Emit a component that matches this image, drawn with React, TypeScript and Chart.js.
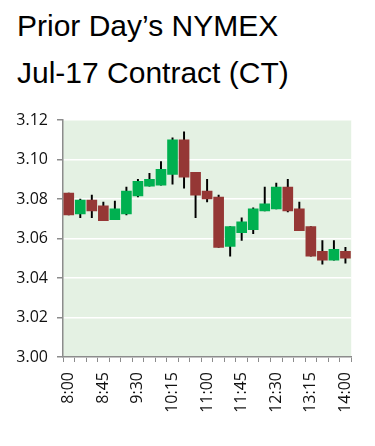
import React, { useEffect, useRef } from "react";
import { Chart, registerables } from "chart.js";

Chart.register(...registerables);

const times = [
  "8:00", "8:15", "8:30", "8:45", "9:00", "9:15", "9:30", "9:45", "10:00",
  "10:15", "10:30", "10:45", "11:00", "11:15", "11:30", "11:45", "12:00",
  "12:15", "12:30", "12:45", "13:00", "13:15", "13:30", "13:45", "14:00",
];
const opens = [
  3.083, 3.0725, 3.0795, 3.0765, 3.0695, 3.0725, 3.0815, 3.0865, 3.087,
  3.0925, 3.11, 3.0935, 3.084, 3.081, 3.056, 3.063, 3.0645, 3.074, 3.075,
  3.086, 3.075, 3.066, 3.0535, 3.049, 3.0535,
];
const highs = [
  3.083, 3.08, 3.082, 3.0785, 3.079, 3.086, 3.09, 3.093, 3.099,
  3.111, 3.114, 3.0935, 3.09, 3.082, 3.066, 3.0705, 3.0755, 3.086, 3.088,
  3.09, 3.0785, 3.066, 3.059, 3.059, 3.0555,
];
const lows = [
  3.072, 3.0705, 3.0705, 3.069, 3.0695, 3.072, 3.081, 3.0865, 3.087,
  3.0875, 3.0855, 3.0705, 3.0785, 3.0555, 3.051, 3.059, 3.0625, 3.074, 3.075,
  3.0735, 3.064, 3.051, 3.047, 3.049, 3.0475,
];
const closes = [
  3.072, 3.0795, 3.074, 3.069, 3.075, 3.084, 3.089, 3.09, 3.095,
  3.11, 3.091, 3.082, 3.08, 3.0555, 3.066, 3.0685, 3.075, 3.0775, 3.086,
  3.074, 3.064, 3.051, 3.049, 3.0545, 3.05,
];
const yTicks = [3.0, 3.02, 3.04, 3.06, 3.08, 3.1, 3.12];
const titleLines = ["Prior Day\u2019s NYMEX", "Jul-17 Contract (CT)"];

const UP = "#00B050";
const DOWN = "#953735";
const PLOT_BG = "#E4F1E3";
const AXIS = "#8C8C8C";

const plotBg = {
  id: "plotBg",
  beforeDraw(chart: any) {
    const { ctx, chartArea } = chart;
    if (!chartArea) return;
    ctx.save();
    ctx.fillStyle = PLOT_BG;
    ctx.fillRect(
      chartArea.left,
      chartArea.top,
      chartArea.right - chartArea.left,
      chartArea.bottom - chartArea.top
    );
    ctx.restore();
  },
};

export default function App() {
  const ref = useRef<HTMLCanvasElement | null>(null);

  useEffect(() => {
    if (!ref.current) return;
    const colors = opens.map((o, i) => (closes[i] >= o ? UP : DOWN));
    const chart = new Chart(ref.current, {
      type: "bar",
      data: {
        labels: times,
        datasets: [
          {
            label: "body",
            data: opens.map((o, i) => [o, closes[i]]) as any,
            backgroundColor: colors,
            barThickness: 10,
            grouped: false,
            order: 0,
          } as any,
          {
            label: "wick",
            data: lows.map((l, i) => [l, highs[i]]) as any,
            backgroundColor: "#000000",
            barThickness: 1.3,
            grouped: false,
            order: 1,
          } as any,
        ],
      },
      options: {
        animation: false,
        responsive: false,
        maintainAspectRatio: false,
        layout: { padding: { left: 0, right: 18, top: 120, bottom: 0 } },
        plugins: {
          legend: { display: false },
          tooltip: { enabled: false },
          title: { display: false },
        },
        scales: {
          x: {
            offset: true,
            grid: {
              offset: true,
              drawOnChartArea: false,
              drawTicks: true,
              tickLength: 5,
              tickColor: AXIS,
            },
            border: { color: AXIS, width: 1.5 },
            ticks: {
              autoSkip: false,
              minRotation: 90,
              maxRotation: 90,
              padding: 10,
              color: "#111",
              font: { family: "'Open Sans'", size: 16 },
              callback: (_v: any, i: number) => (i % 3 === 0 ? times[i] : ""),
            },
            afterFit: (s: any) => {
              s.height = 89;
            },
          },
          y: {
            min: 3.0,
            max: 3.12,
            afterBuildTicks: (s: any) => {
              s.ticks = yTicks.map((v) => ({ value: v }));
            },
            grid: {
              color: "#FFFFFF",
              lineWidth: 1.5,
              tickColor: AXIS,
              tickLength: 6,
            },
            border: { color: AXIS, width: 1.5 },
            ticks: {
              padding: 9,
              color: "#111",
              font: { family: "'Open Sans'", size: 16 },
              callback: (v: any) => Number(v).toFixed(2),
            },
            afterFit: (s: any) => {
              s.width = 63;
            },
          },
        },
      },
      plugins: [plotBg],
    });
    return () => chart.destroy();
  }, []);

  return (
    <div
      style={{
        position: "absolute",
        left: 0,
        top: 0,
        width: 375,
        height: 446,
        background: "#fff",
        overflow: "hidden",
      }}
    >
      {titleLines.map((t, i) => (
        <div
          key={i}
          style={{
            position: "absolute",
            left: 17,
            top: 10.6 + i * 47,
            fontFamily: "'Liberation Sans', Arial, sans-serif",
            fontSize: 30,
            lineHeight: "30px",
            color: "#000",
            whiteSpace: "nowrap",
          }}
        >
          {t}
        </div>
      ))}
      <canvas
        ref={ref}
        width={375}
        height={446}
        style={{ position: "absolute", left: 0, top: 0, width: 375, height: 446 }}
      />
    </div>
  );
}
